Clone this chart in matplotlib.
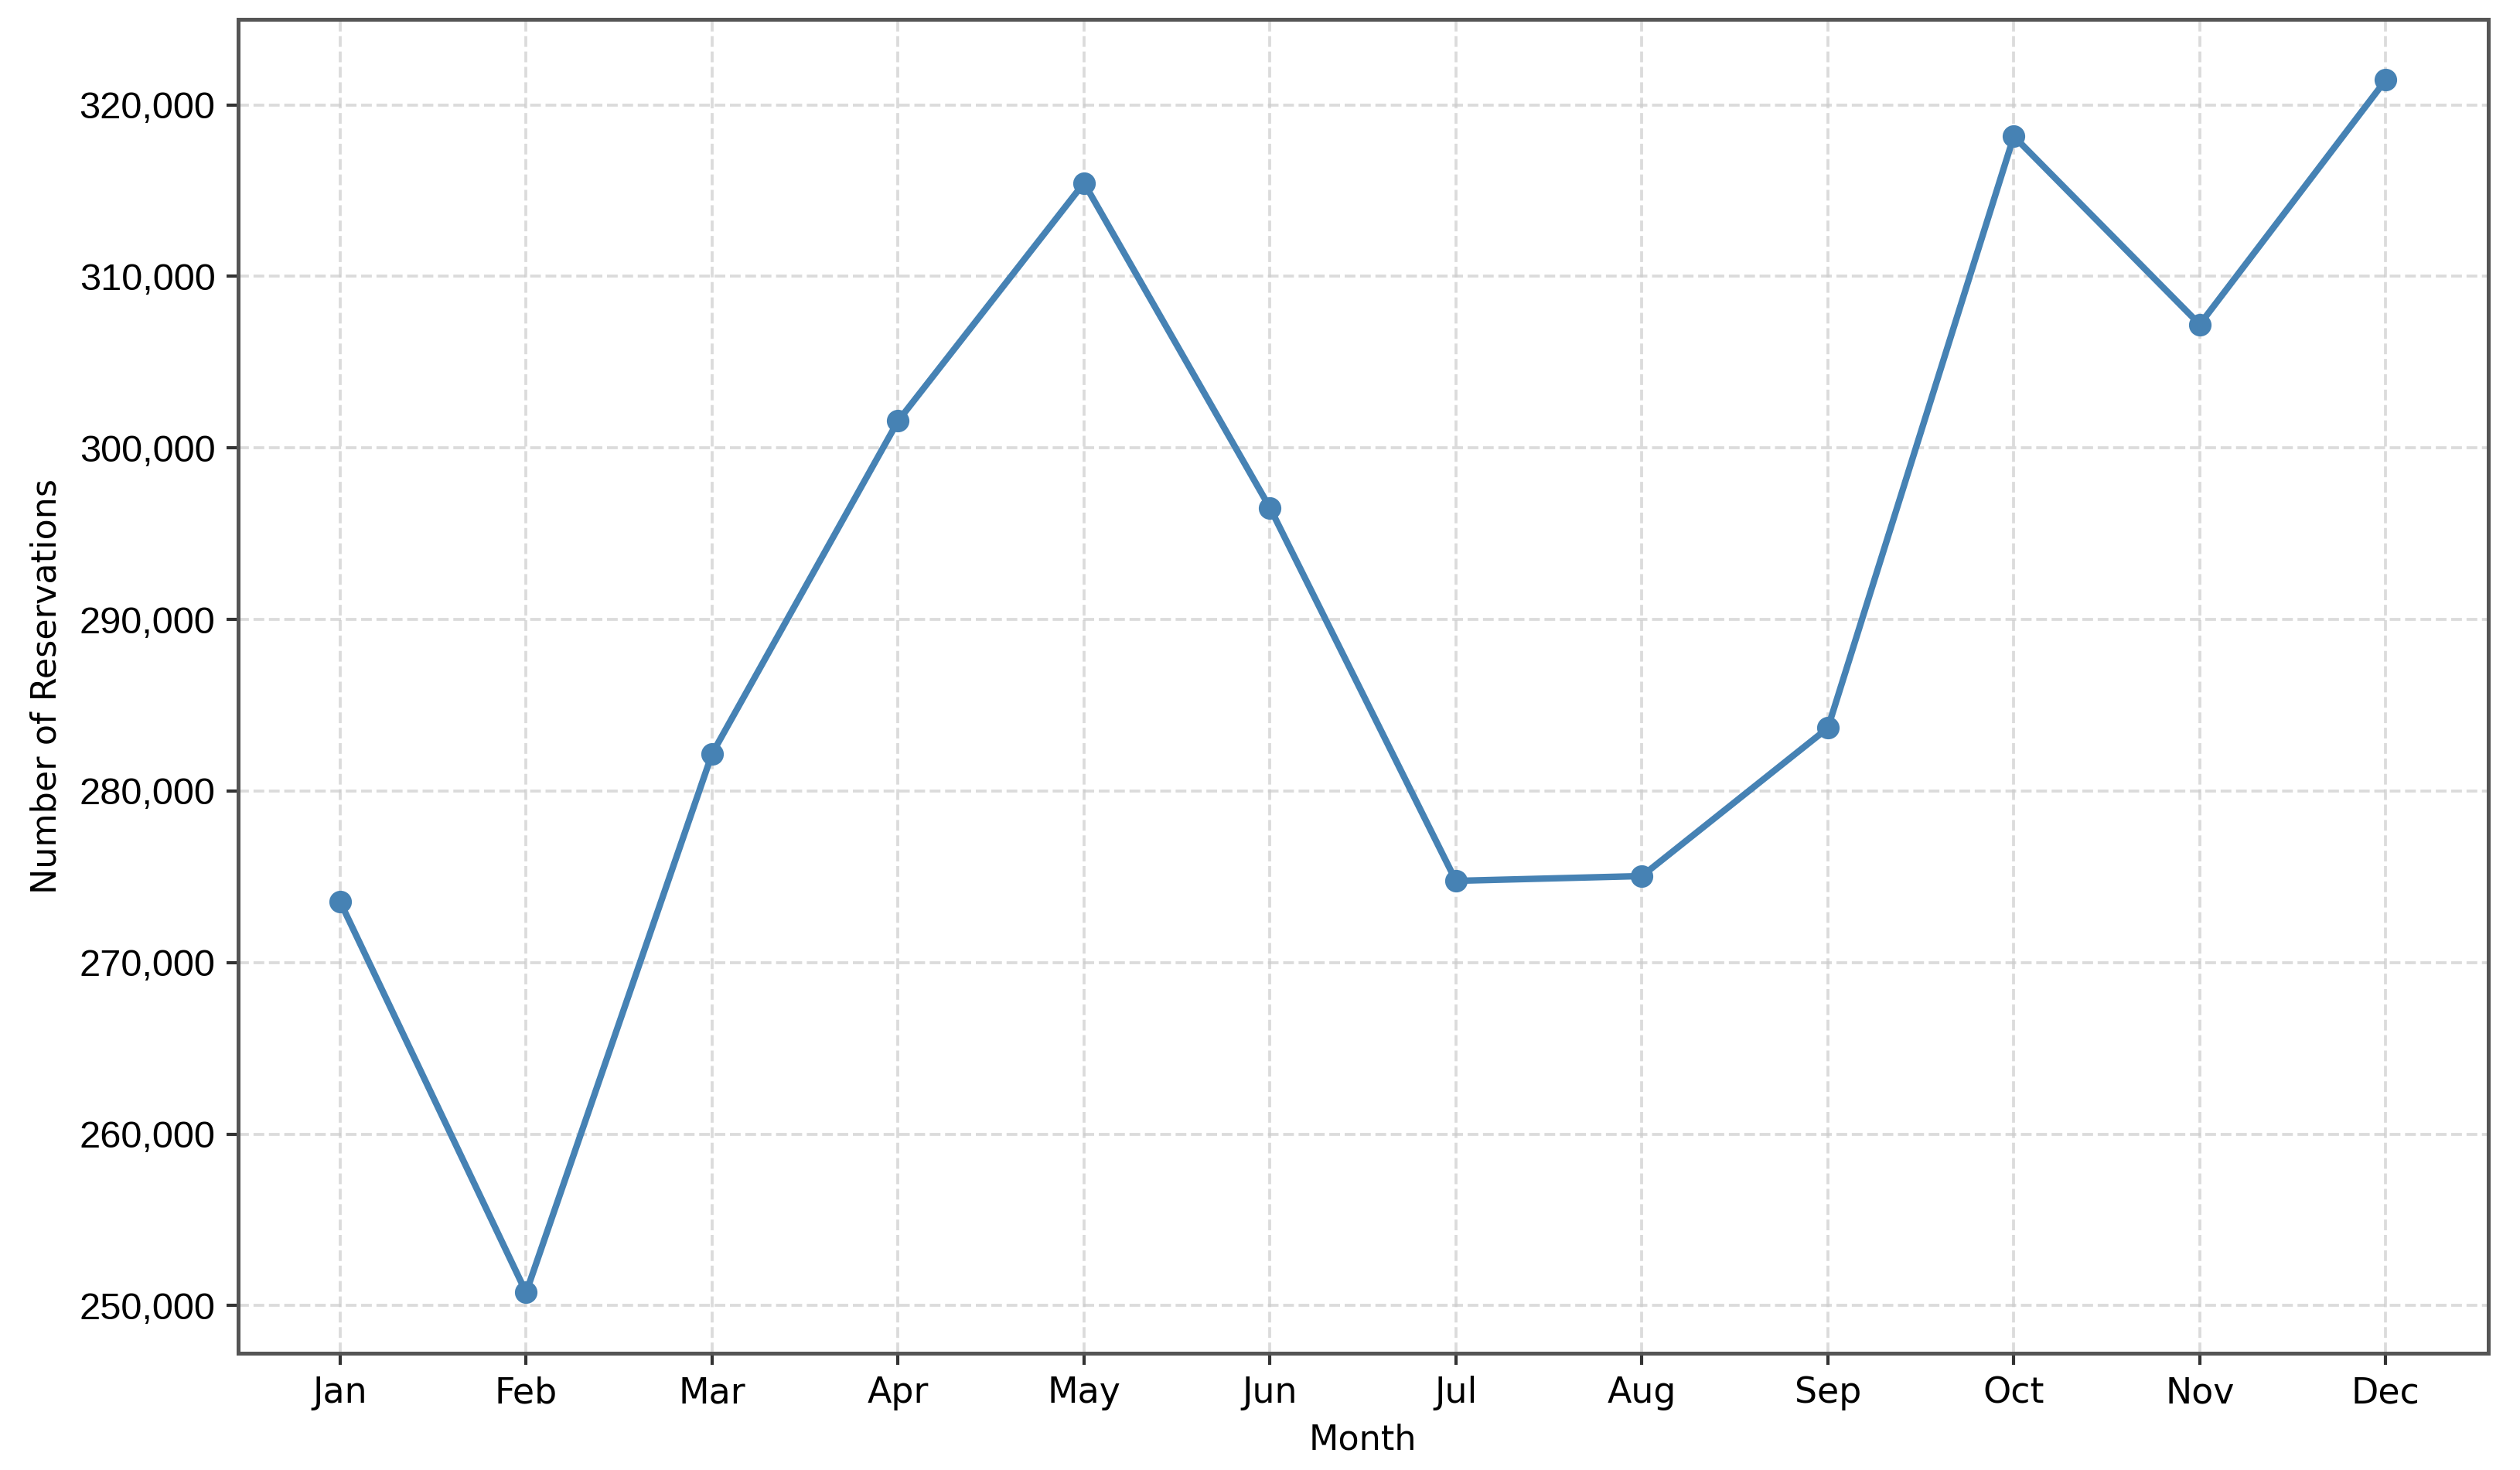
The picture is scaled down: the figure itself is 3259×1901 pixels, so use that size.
import matplotlib
matplotlib.use("Agg")
import matplotlib.pyplot as plt
from matplotlib.ticker import FuncFormatter

months = ["Jan", "Feb", "Mar", "Apr", "May", "Jun",
          "Jul", "Aug", "Sep", "Oct", "Nov", "Dec"]
reservations = [273540, 250760, 282170, 301570, 315450, 296510,
                274760, 275040, 283670, 318170, 307200, 321450]

fig = plt.figure(figsize=(3259 / 300, 1901 / 300), dpi=300)
ax = fig.add_axes([0.0944, 0.0795, 0.8929, 0.9073])

x = list(range(len(months)))
ax.plot(x, reservations, color="#4682B4", linewidth=2, marker="o",
        markersize=6)

ax.set_xticks(x)
ax.set_xticklabels(months, fontsize=11, family="DejaVu Sans")
ax.yaxis.set_major_formatter(FuncFormatter(lambda v, p: f"{int(v):,}"))
ax.tick_params(axis="y", labelsize=11.7)

ax.set_xlabel("Month", fontsize=10.7, labelpad=4)
ax.set_ylabel("Number of Reservations", fontsize=10.7, labelpad=5)

ax.grid(True, linestyle="--", color="#cccccc", linewidth=0.9, alpha=0.7)
for s in ax.spines.values():
    s.set_color("#555555")
    s.set_linewidth(1.2)
ax.tick_params(colors="#333333", labelcolor="black", width=1)

fig.canvas.draw()
for lab in ax.get_yticklabels():
    lab.set_fontfamily("Liberation Sans")
    lab.set_fontsize(11.7)

fig.savefig("out.png", dpi=300)
